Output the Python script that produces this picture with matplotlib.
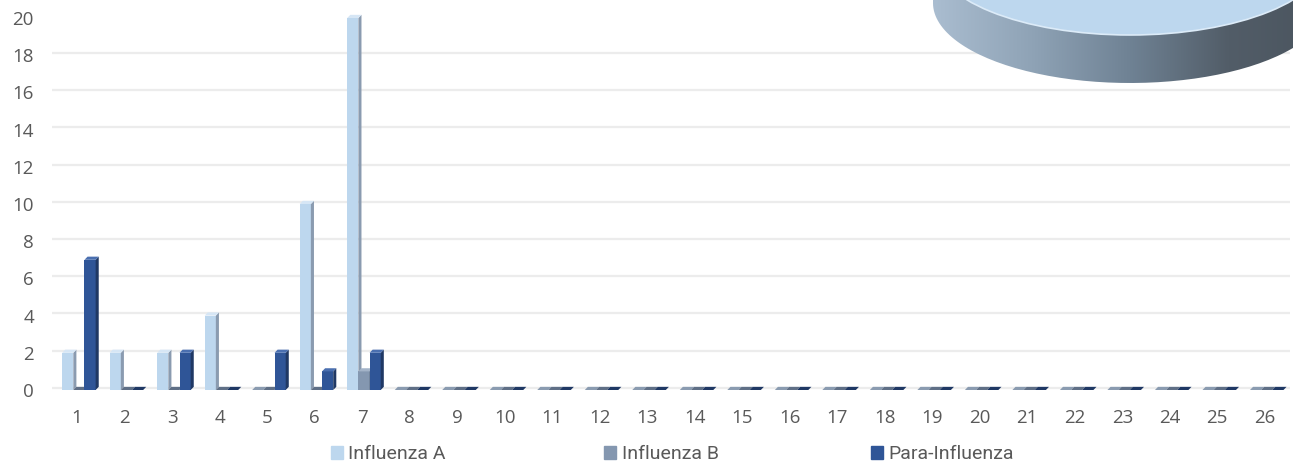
import numpy as np
import matplotlib
matplotlib.use("Agg")
import matplotlib.pyplot as plt
from matplotlib.patches import Polygon, Ellipse, PathPatch
from matplotlib.path import Path
from matplotlib import font_manager

# data
weeks = list(range(1, 27))
influenza_a = [2, 2, 2, 4, 0, 10, 20] + [0] * 19
influenza_b = [0, 0, 0, 0, 0, 0, 1] + [0] * 19
para_influenza = [7, 0, 2, 0, 2, 1, 2] + [0] * 19
series_names = ["Influenza A", "Influenza B", "Para-Influenza"]
y_ticks = list(range(0, 21, 2))

front_cols = ["#bdd7ee", "#8497b0", "#2f5597"]
side_cols = ["#8a9bb0", "#5f6f86", "#1f3864"]
top_cols = ["#d6e6f5", "#a3b3c8", "#4a6fb0"]

names = {f.name for f in font_manager.fontManager.ttflist}
tick_font = "Open Sans" if "Open Sans" in names else "DejaVu Sans"
leg_font = "Liberation Sans Narrow" if "Liberation Sans Narrow" in names else "Roboto"

fig = plt.figure(figsize=(12.93, 4.68), dpi=100)
ax = fig.add_axes([52 / 1293, 78 / 468, 1238 / 1293, 372 / 468])
ax.set_xlim(0.474, 26.53)
ax.set_ylim(0, 20)

for y in y_ticks:
    ax.axhline(y + 0.12, color="#ececec", lw=1.6, zorder=0)

w = 0.235
dx = 0.065
dy = 0.17
x = np.array(weeks, dtype=float)
all_vals = [influenza_a, influenza_b, para_influenza]
for i, vals in enumerate(all_vals):
    xs = x + 0.04 + (i - 1) * w
    ax.bar(xs, vals, width=w, color=front_cols[i], zorder=2 + i, linewidth=0)
    for xc, v in zip(xs, vals):
        x0 = xc - w / 2
        x1 = xc + w / 2
        side = Polygon([(x1, 0), (x1 + dx, dy), (x1 + dx, v + dy), (x1, v)],
                       closed=True, facecolor=side_cols[i], lw=0, zorder=2 + i, clip_on=False)
        top = Polygon([(x0, v), (x0 + dx, v + dy), (x1 + dx, v + dy), (x1, v)],
                      closed=True, facecolor=top_cols[i] if v > 0 else side_cols[i],
                      lw=0, zorder=2 + i, clip_on=False)
        ax.add_patch(side)
        ax.add_patch(top)

ax.set_yticks(y_ticks)
ax.set_xticks(weeks)
ax.set_xticklabels([str(k) for k in weeks])
ax.tick_params(length=0, labelsize=13.5, labelcolor="#595959")
ax.tick_params(axis="x", pad=14)
ax.tick_params(axis="y", pad=13)
for lab in ax.get_xticklabels() + ax.get_yticklabels():
    lab.set_fontfamily(tick_font)
for s in ax.spines.values():
    s.set_visible(False)

# legend, one entry per block so each sits where the reference has it
leg_x = [331 / 1293, 604 / 1293, 871 / 1293]
for name, col, lx in zip(series_names, front_cols, leg_x):
    leg = fig.legend([plt.Rectangle((0, 0), 1, 1, color=col)], [name],
                     loc="center left", bbox_to_anchor=(lx, 0.029),
                     frameon=False, borderpad=0, borderaxespad=0,
                     handlelength=0.6, handleheight=0.6, handletextpad=0.3,
                     prop={"family": leg_font, "size": 14})
    for t in leg.get_texts():
        t.set_color("#595959")

# partial 3D pie disc in the top right corner (pixel coordinates)
ov = fig.add_axes([0, 0, 1, 1], zorder=10)
ov.set_xlim(0, 1293)
ov.set_ylim(468, 0)
ov.axis("off")
cx, cy, a, b, thick = 1130, -45, 197, 80, 48
t1 = np.linspace(np.pi, 2 * np.pi, 100)
t2 = np.linspace(0, np.pi, 100)
upper = np.c_[cx + a * np.cos(t1), cy + b * np.sin(t1)]
lower = np.c_[cx + a * np.cos(t2), cy + thick + b * np.sin(t2)]
outline = np.vstack([upper, lower, upper[:1]])
clip = PathPatch(Path(outline), transform=ov.transData, facecolor="none", edgecolor="none")
ov.add_patch(clip)
grad = np.linspace(0, 1, 256).reshape(1, -1)
cmap = matplotlib.colors.LinearSegmentedColormap.from_list(
    "disc", ["#aabdd0", "#8fa3b6", "#6f8294", "#525d68", "#4a545e"])
im = ov.imshow(grad, cmap=cmap, extent=(cx - a, cx + a, cy + thick + b, cy - b),
               aspect="auto", zorder=11)
im.set_clip_path(clip)
ov.add_patch(Ellipse((cx, cy), 2 * a, 2 * b, facecolor="#bdd7ee",
                     edgecolor="#dcebf8", lw=1.2, zorder=12))
ov.set_xlim(0, 1293)
ov.set_ylim(468, 0)

fig.savefig("out.png", dpi=100)
